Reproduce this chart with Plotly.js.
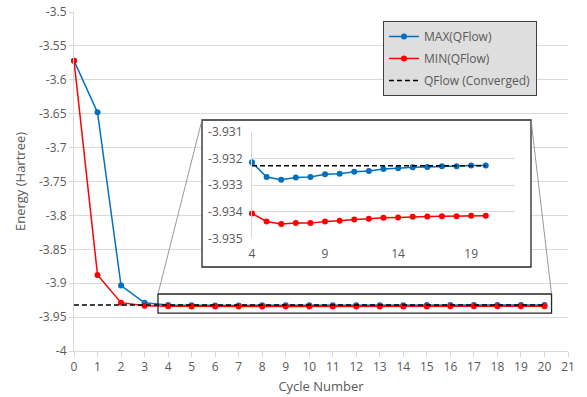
<!DOCTYPE html>
<html>
<head>
<meta charset="utf-8">
<script src="https://cdn.plot.ly/plotly-3.0.1.min.js"></script>
<style>html,body{margin:0;padding:0;background:#fff;}#chart{width:587px;height:397px;}</style>
</head>
<body>
<div id="chart"></div>
<script>
// ---- data ----
const cycles = [0,1,2,3,4,5,6,7,8,9,10,11,12,13,14,15,16,17,18,19,20];
const maxQFlow = [-3.5718,-3.6480,-3.9035,-3.9290,-3.93215,-3.9327,-3.9328,-3.93272,-3.9327,-3.9326,-3.93258,-3.9325,-3.93247,-3.9324,-3.93237,-3.93233,-3.93232,-3.9323,-3.9323,-3.93227,-3.93227];
const minQFlow = [-3.5718,-3.8880,-3.9287,-3.9333,-3.93407,-3.93437,-3.93446,-3.93443,-3.93443,-3.93437,-3.93434,-3.93429,-3.93427,-3.93423,-3.93422,-3.93419,-3.93418,-3.93417,-3.93417,-3.93415,-3.93415];
const convergedX = [0, 20];
const convergedY = [-3.93228, -3.93228];
const insetStart = 4;

const seriesNames = ['MAX(QFlow)', 'MIN(QFlow)', 'QFlow (Converged)'];
const mainXTicks = [0,1,2,3,4,5,6,7,8,9,10,11,12,13,14,15,16,17,18,19,20,21];
const mainYTicks = [-4,-3.95,-3.9,-3.85,-3.8,-3.75,-3.7,-3.65,-3.6,-3.55,-3.5];
const mainYTickText = ['-4','-3.95','-3.9','-3.85','-3.8','-3.75','-3.7','-3.65','-3.6','-3.55','-3.5'];
const insetXTicks = [4,9,14,19];
const insetYTicks = [-3.935,-3.934,-3.933,-3.932,-3.931];
const insetYTickText = ['-3.935','-3.934','-3.933','-3.932','-3.931'];

// ---- styles ----
const BLUE = '#0070C0', RED = '#FF0000', GRID = '#D9D9D9', TXT = '#595959';
const FONT = 'Open Sans, Liberation Sans, sans-serif';

const insetX = cycles.slice(insetStart);
const insetMax = maxQFlow.slice(insetStart);
const insetMin = minQFlow.slice(insetStart);
const insetConvX = [cycles[insetStart], convergedX[1]];

const traces = [
  {x: cycles, y: maxQFlow, name: seriesNames[0], legendgroup: 'a', mode: 'lines+markers', cliponaxis: false,
   line: {color: BLUE, width: 1.5}, marker: {color: BLUE, size: 6}, xaxis: 'x', yaxis: 'y'},
  {x: cycles, y: minQFlow, name: seriesNames[1], legendgroup: 'b', mode: 'lines+markers', cliponaxis: false,
   line: {color: RED, width: 1.5}, marker: {color: RED, size: 6}, xaxis: 'x', yaxis: 'y'},
  {x: convergedX, y: convergedY, name: seriesNames[2], legendgroup: 'c', mode: 'lines', cliponaxis: false,
   line: {color: '#000000', width: 1.5, dash: '5px,3px'}, xaxis: 'x', yaxis: 'y'},
  // box subplot placeholder
  {x: [], y: [], xaxis: 'x2', yaxis: 'y2', showlegend: false, hoverinfo: 'skip', mode: 'markers'},
  // inset
  {x: insetX, y: insetMax, name: seriesNames[0], legendgroup: 'a', showlegend: false, mode: 'lines+markers', cliponaxis: false,
   line: {color: BLUE, width: 1.5}, marker: {color: BLUE, size: 6}, xaxis: 'x3', yaxis: 'y3'},
  {x: insetX, y: insetMin, name: seriesNames[1], legendgroup: 'b', showlegend: false, mode: 'lines+markers', cliponaxis: false,
   line: {color: RED, width: 1.5}, marker: {color: RED, size: 6}, xaxis: 'x3', yaxis: 'y3'},
  {x: insetConvX, y: convergedY, name: seriesNames[2], legendgroup: 'c', showlegend: false, mode: 'lines', cliponaxis: false,
   line: {color: '#000000', width: 1.5, dash: '5px,3px'}, xaxis: 'x3', yaxis: 'y3'}
];

const boxDom = {x: [0.2591, 0.9251], y: [0.2478, 0.6814]};
const rect = {x0: 3.57, x1: 20.3, y0: -3.9440, y1: -3.9159};

const layout = {
  width: 587, height: 397,
  margin: {l: 74, r: 19, t: 12, b: 46},
  paper_bgcolor: '#ffffff', plot_bgcolor: '#ffffff',
  font: {family: FONT, size: 12, color: TXT},
  showlegend: true,
  legend: {x: 0.6255, y: 0.9735, xanchor: 'left', yanchor: 'top',
           bgcolor: '#DEDEDE', bordercolor: '#404040', borderwidth: 1,
           tracegroupgap: 3, font: {family: FONT, size: 12, color: TXT}},
  xaxis: {domain: [0, 1], anchor: 'y', range: [0, 21], tickvals: mainXTicks,
          showgrid: false, zeroline: false, showline: true, linecolor: GRID, linewidth: 1,
          ticks: 'outside', ticklen: 5, tickcolor: GRID,
          title: {text: 'Cycle Number', font: {size: 13, color: TXT}, standoff: 7}},
  yaxis: {domain: [0, 1], anchor: 'x', range: [-4, -3.5], tickvals: mainYTicks, ticktext: mainYTickText,
          showgrid: true, gridcolor: GRID, zeroline: false, showline: true, linecolor: GRID,
          ticks: 'outside', ticklen: 4, tickcolor: GRID,
          title: {text: 'Energy (Hartree)', font: {size: 13, color: TXT}, standoff: 10}},
  xaxis2: {domain: boxDom.x, anchor: 'y2', range: [0, 1], visible: false, fixedrange: true},
  yaxis2: {domain: boxDom.y, anchor: 'x2', range: [0, 1], visible: false, fixedrange: true},
  xaxis3: {domain: [0.3603, 0.8927], anchor: 'y3', range: [4, 22], tickvals: insetXTicks,
           showgrid: false, zeroline: false, showline: false, ticks: '', ticklabelstandoff: 7},
  yaxis3: {domain: [0.3324, 0.6469], anchor: 'x3', range: [-3.935, -3.931],
           tickvals: insetYTicks, ticktext: insetYTickText,
           showgrid: true, gridcolor: GRID, zeroline: false, showline: true, linecolor: GRID,
           ticks: '', ticklabelstandoff: 6},
  shapes: [
    {type: 'rect', xref: 'x2', yref: 'y2', x0: 0, x1: 1, y0: 0, y1: 1, layer: 'below',
     fillcolor: '#ffffff', line: {width: 0}},
    {type: 'rect', xref: 'paper', yref: 'paper', x0: boxDom.x[0], x1: boxDom.x[1], y0: boxDom.y[0], y1: boxDom.y[1],
     layer: 'above', fillcolor: 'rgba(0,0,0,0)', line: {color: '#262626', width: 1.3}},
    {type: 'rect', xref: 'x', yref: 'y', x0: rect.x0, x1: rect.x1, y0: rect.y0, y1: rect.y1,
     layer: 'above', fillcolor: 'rgba(0,0,0,0)', line: {color: '#262626', width: 1.3}},
    {type: 'line', xref: 'paper', yref: 'paper', x0: rect.x0 / 21, y0: (rect.y1 + 4) / 0.5, x1: boxDom.x[0], y1: boxDom.y[1],
     layer: 'above', line: {color: '#7F7F7F', width: 0.8}},
    {type: 'line', xref: 'paper', yref: 'paper', x0: rect.x1 / 21, y0: (rect.y1 + 4) / 0.5, x1: boxDom.x[1], y1: boxDom.y[1],
     layer: 'above', line: {color: '#7F7F7F', width: 0.8}}
  ]
};

Plotly.newPlot('chart', traces, layout, {displayModeBar: false, staticPlot: true});
</script>
</body>
</html>
